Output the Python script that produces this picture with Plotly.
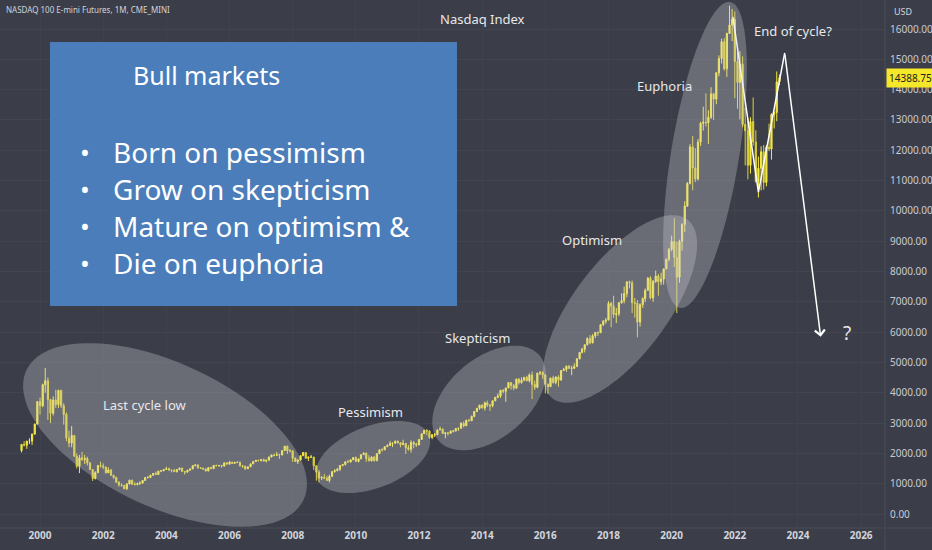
import plotly.graph_objects as go
import pandas as pd
import numpy as np

# NASDAQ 100 E-mini, monthly bars from Jun 1999
first_open = 2090
closes = [
    2296, 2271, 2406, 2407, 2637, 2966, 3708,
    3570, 4266, 4397, 3774, 3324, 3763, 3609, 4078, 3571, 3283, 2507, 2342,
    2593, 1908, 1573, 1855, 1800, 1830, 1683, 1470, 1169, 1364, 1597, 1577,
    1550, 1359, 1452, 1277, 1208, 1051, 962, 942, 832, 989, 1116, 984,
    967, 1012, 1018, 1106, 1201, 1201, 1282, 1340, 1303, 1416, 1425, 1468,
    1494, 1446, 1438, 1396, 1466, 1517, 1401, 1381, 1444, 1486, 1596, 1622,
    1519, 1509, 1483, 1420, 1534, 1494, 1604, 1592, 1601, 1579, 1686, 1645,
    1712, 1670, 1703, 1704, 1594, 1575, 1495, 1555, 1654, 1731, 1767, 1756,
    1788, 1749, 1772, 1880, 1947, 1934, 1955, 1946, 2091, 2239, 2089, 2084,
    1841, 1730, 1781, 1925, 2027, 1837, 1872, 1880, 1592, 1378, 1189, 1211,
    1175, 1105, 1237, 1395, 1429, 1477, 1600, 1637, 1720, 1714, 1787, 1860,
    1734, 1817, 1957, 2003, 1830, 1753, 1878, 1754, 1990, 2118, 2115, 2218,
    2265, 2330, 2338, 2402, 2352, 2288, 2329, 2191, 2131, 2359, 2309, 2277,
    2458, 2647, 2755, 2734, 2525, 2616, 2620, 2772, 2799, 2654, 2677, 2661,
    2731, 2739, 2819, 2828, 2989, 2909, 3091, 3074, 3218, 3380, 3487, 3592,
    3494, 3666, 3596, 3567, 3736, 3850, 3892, 4083, 4049, 4158, 4336, 4236,
    4152, 4452, 4334, 4415, 4509, 4396, 4588, 4275, 4181, 4648, 4665, 4593,
    4280, 4201, 4484, 4341, 4523, 4418, 4730, 4771, 4875, 4801, 4810, 4863,
    5117, 5330, 5436, 5584, 5788, 5646, 5880, 5988, 5979, 6248, 6357, 6396,
    6949, 6854, 6581, 6605, 6968, 7040, 7272, 7660, 7627, 6967, 6949, 6330,
    6907, 7103, 7378, 7781, 7127, 7671, 7848, 7663, 7750, 8084, 8403, 8733,
    8991, 8462, 7813, 9000, 9555, 10157, 10905, 12110, 11418, 11052, 12269, 12888,
    12925, 12909, 13091, 13860, 13687, 14554, 15029, 15583, 14690, 15850, 16135, 16320,
    14930, 14237, 14838, 12855, 12643, 11504, 12947, 12272, 10971, 11406, 11951, 10940,
    12102, 12042, 13181, 13246, 14254, 14388.75,
]
highs = [
    2300, 2400, 2410, 2500, 2650, 2980, 3720,
    3840, 4300, 4816, 4500, 3800, 3880, 4100, 4100, 4100, 3650, 3350, 2750,
    2900, 2600, 2000, 1950, 2050, 1950, 1890, 1720, 1480, 1410, 1620, 1730,
    1670, 1560, 1540, 1480, 1290, 1230, 1080, 1010, 960, 1020, 1130, 1130,
    1050, 1030, 1080, 1120, 1210, 1250, 1290, 1350, 1400, 1420, 1445, 1480,
    1560, 1530, 1460, 1490, 1480, 1520, 1520, 1410, 1460, 1500, 1600, 1630,
    1625, 1550, 1530, 1500, 1540, 1560, 1610, 1630, 1620, 1620, 1700, 1710,
    1750, 1720, 1715, 1735, 1730, 1610, 1590, 1560, 1660, 1740, 1790, 1800,
    1820, 1830, 1790, 1890, 1960, 1990, 2050, 1990, 2100, 2240, 2250, 2140,
    2090, 1870, 1800, 1930, 2040, 2040, 1900, 1950, 1880, 1600, 1450, 1240,
    1320, 1260, 1300, 1420, 1480, 1520, 1610, 1650, 1730, 1790, 1800, 1880,
    1900, 1830, 1960, 2040, 2030, 1940, 1900, 1910, 2000, 2130, 2170, 2230,
    2300, 2400, 2350, 2420, 2420, 2360, 2450, 2340, 2280, 2430, 2410, 2350,
    2470, 2660, 2780, 2800, 2760, 2630, 2670, 2790, 2880, 2820, 2690, 2700,
    2760, 2770, 2830, 2850, 3030, 3050, 3110, 3140, 3250, 3400, 3500, 3600,
    3620, 3710, 3740, 3630, 3740, 3860, 3980, 4090, 4120, 4170, 4350, 4340,
    4290, 4460, 4480, 4510, 4520, 4560, 4640, 4700, 4400, 4660, 4720, 4710,
    4590, 4300, 4500, 4560, 4530, 4580, 4750, 4820, 4900, 4920, 4890, 4970,
    5140, 5340, 5480, 5590, 5830, 5900, 5930, 6000, 6020, 6260, 6400, 6470,
    7020, 7000, 7200, 6800, 6990, 7280, 7500, 7670, 7700, 7700, 7130, 7060,
    6950, 7150, 7440, 7820, 7850, 7720, 8030, 7920, 7960, 8100, 8430, 8770,
    9180, 9760, 8980, 9050, 9590, 10320, 10950, 12200, 12470, 12070, 12370, 12940,
    13440, 13880, 13320, 14080, 13900, 14580, 15130, 15680, 15700, 15880, 16770, 16660,
    16580, 15260, 15270, 15100, 13400, 13050, 13090, 13740, 12660, 11790, 12130, 12170,
    12160, 12880, 13220, 13290, 14600, 14500,
]
lows = [
    2030, 2230, 2150, 2310, 2280, 2610, 2950,
    3280, 3520, 4000, 3100, 3000, 3250, 3500, 3500, 3500, 2950, 2400, 2200,
    2200, 1880, 1500, 1350, 1750, 1650, 1600, 1450, 1090, 1140, 1360, 1530,
    1480, 1340, 1350, 1270, 1150, 1020, 900, 900, 830, 795, 980, 960,
    950, 950, 960, 1010, 1090, 1180, 1190, 1260, 1290, 1300, 1380, 1410,
    1460, 1440, 1370, 1390, 1370, 1440, 1400, 1300, 1370, 1420, 1480, 1570,
    1500, 1490, 1460, 1400, 1410, 1490, 1490, 1570, 1560, 1530, 1580, 1640,
    1640, 1650, 1650, 1690, 1560, 1520, 1450, 1480, 1550, 1650, 1720, 1750,
    1740, 1740, 1700, 1770, 1870, 1900, 1940, 1820, 1940, 2080, 1980, 2030,
    1720, 1720, 1650, 1760, 1920, 1830, 1750, 1850, 1450, 1100, 1040, 1120,
    1150, 1100, 1040, 1220, 1370, 1410, 1420, 1570, 1600, 1700, 1700, 1780,
    1730, 1700, 1820, 1950, 1720, 1740, 1730, 1740, 1760, 1980, 2060, 2110,
    2210, 2250, 2210, 2320, 2320, 2200, 2310, 1980, 2090, 2030, 2170, 2210,
    2280, 2450, 2640, 2600, 2480, 2470, 2540, 2600, 2770, 2640, 2500, 2590,
    2660, 2690, 2720, 2740, 2820, 2860, 2920, 3060, 3070, 3190, 3360, 3440,
    3480, 3410, 3530, 3400, 3520, 3720, 3820, 3830, 3980, 3700, 4150, 4100,
    4080, 4130, 4270, 4300, 4380, 4380, 4340, 3790, 4090, 4150, 4580, 4460,
    3980, 3960, 4200, 4300, 4280, 4200, 4400, 4720, 4690, 4790, 4580, 4780,
    4860, 5110, 5300, 5330, 5560, 5600, 5630, 5800, 5870, 5980, 6200, 6280,
    6400, 6160, 6470, 6300, 6530, 6940, 6950, 7150, 7440, 6630, 6480, 5830,
    6180, 6800, 6990, 7380, 7080, 7000, 7620, 7200, 7550, 7570, 8080, 8340,
    8660, 8150, 6630, 7630, 8690, 9300, 10130, 10870, 10680, 10950, 11000, 12140,
    12650, 12780, 12210, 13030, 13000, 13520, 14440, 14860, 14630, 14420, 15850, 15600,
    13720, 13370, 13020, 12760, 11500, 11040, 11230, 12150, 10930, 10440, 10680, 10700,
    10810, 11970, 11690, 12720, 12960, 14150,
]
opens = [first_open] + closes[:-1]
months = pd.date_range("1999-06-01", periods=len(closes), freq="MS")

# hand-drawn "end of cycle?" path
cycle_dates = ["2021-12-10", "2022-10-01", "2023-08-01"]
cycle_prices = [16400, 10620, 15210]
arrow_end = ("2024-09-20", 5850)

BG = "#3b3e49"
W, H = 885, 528  # plot area in pixels


def pp(x, y):
    return x / W, 1 - y / H


def ellipse_path(cx, cy, a, b, ang):
    t = np.linspace(0, 2 * np.pi, 90)
    th = np.radians(ang)
    xs = cx + a * np.cos(t) * np.cos(th) - b * np.sin(t) * np.sin(th)
    ys = cy + a * np.cos(t) * np.sin(th) + b * np.sin(t) * np.cos(th)
    pts = [pp(x, y) for x, y in zip(xs, ys)]
    return "M " + " L ".join("%.4f,%.4f" % p for p in pts) + " Z"


fig = go.Figure()
fig.add_trace(go.Candlestick(
    x=months, open=opens, high=highs, low=lows, close=closes,
    increasing=dict(line=dict(color="#f5e842", width=1), fillcolor="#f5e842"),
    decreasing=dict(line=dict(color="#ddd036", width=1), fillcolor="#ddd036"),
    whiskerwidth=0, showlegend=False, hoverinfo="skip",
))
fig.add_trace(go.Scatter(
    x=cycle_dates, y=cycle_prices, mode="lines",
    line=dict(color="white", width=1.5), showlegend=False, hoverinfo="skip",
))

shapes = []
# phases of the cycle
for cx, cy, a, b, ang in [(165, 435, 153, 72, 25), (373, 457, 60, 31, -21),
                          (489, 398, 66, 40, -40), (620, 309, 112, 47, -53),
                          (705, 155, 155, 34, -80.7)]:
    shapes.append(dict(type="path", xref="paper", yref="paper",
                       path=ellipse_path(cx, cy, a, b, ang),
                       fillcolor="rgba(212,212,218,0.30)", line=dict(width=0),
                       layer="above"))
# blue box
x0, y0 = pp(50, 42)
x1, y1 = pp(457, 306)
shapes.append(dict(type="rect", xref="paper", yref="paper", x0=x0, y0=y0, x1=x1, y1=y1,
                   fillcolor="#4a7dba", line=dict(width=0), layer="above"))
# separators
shapes.append(dict(type="line", xref="paper", yref="paper", x0=1, x1=1, y0=-0.05, y1=1,
                   line=dict(color="#4a4d58", width=1)))
shapes.append(dict(type="line", xref="paper", yref="paper", x0=0, x1=1.06, y0=0, y1=0,
                   line=dict(color="#4a4d58", width=1)))

annotations = []


def label(text, x, y, size=13, color="#e8e8ea", xanchor="center", family="Noto Sans", **kw):
    px, py = pp(x, y)
    annotations.append(dict(text=text, x=px, y=py, xref="paper", yref="paper",
                            xanchor=xanchor, yanchor="middle", showarrow=False,
                            font=dict(size=size, color=color, family=family), **kw))


label("NASDAQ 100 E-mini Futures, 1M, CME_MINI", 4, 10, size=8, xanchor="left", color="#d1d4dc")
label("Nasdaq Index", 483, 19, size=13)
label("Last cycle low", 145, 405)
label("Pessimism", 370, 412)
label("Skepticism", 477, 338)
label("Optimism", 592, 240)
label("Euphoria", 664, 86)
label("End of cycle?", 793, 31)
label("?", 847, 333, size=19)
label("USD", 892, 12, size=9, xanchor="left", color="#d1d4dc")

box_font = "Noto Sans"
label("Bull markets", 131, 75, size=25, xanchor="left", color="white", family=box_font)
for i, line in enumerate(["Born on pessimism", "Grow on skepticism",
                          "Mature on optimism &", "Die on euphoria"]):
    yy = 152 + i * 37
    label("•", 78, yy, size=26, xanchor="left", color="white", family=box_font)
    label(line, 111, yy, size=28, xanchor="left", color="white", family=box_font)

# last price tag
annotations.append(dict(text="14388.75", x=1.001, y=closes[-1], xref="paper", yref="y",
                        xanchor="left", yanchor="middle", showarrow=False,
                        bgcolor="#f5e82a", borderpad=2,
                        font=dict(size=10, color="#222222", family="Noto Sans")))
# arrow for the drop
annotations.append(dict(x=arrow_end[0], y=arrow_end[1], ax=cycle_dates[-1], ay=cycle_prices[-1],
                        xref="x", yref="y", axref="x", ayref="y", text="",
                        showarrow=True, arrowhead=4, arrowsize=1.3, arrowwidth=1.5,
                        arrowcolor="white"))

fig.update_layout(
    width=932, height=550,
    margin=dict(l=0, r=47, t=0, b=22),
    paper_bgcolor=BG, plot_bgcolor=BG,
    shapes=shapes, annotations=annotations,
    font=dict(family="Noto Sans", color="#d1d4dc"),
    xaxis=dict(type="date", range=["1998-09-25", "2026-10-04"],
               tick0="2000-01-01", dtick="M24", tickformat="%Y",
               showgrid=True, gridcolor="#40434d", zeroline=False,
               tickfont=dict(size=10, color="#d1d4dc", weight="bold"),
               rangeslider=dict(visible=False), fixedrange=True, ticks=""),
    yaxis=dict(side="right", range=[-462, 16957], dtick=1000, tick0=0,
               tickformat=".2f", showgrid=True, gridcolor="#42454f",
               zeroline=False, tickfont=dict(size=10, color="#c8cad2"),
               ticks="", ticklabelstandoff=4, fixedrange=True),
)

fig.write_html("out.html", config={"displayModeBar": False},
               post_script="document.body.style.margin='0';")
